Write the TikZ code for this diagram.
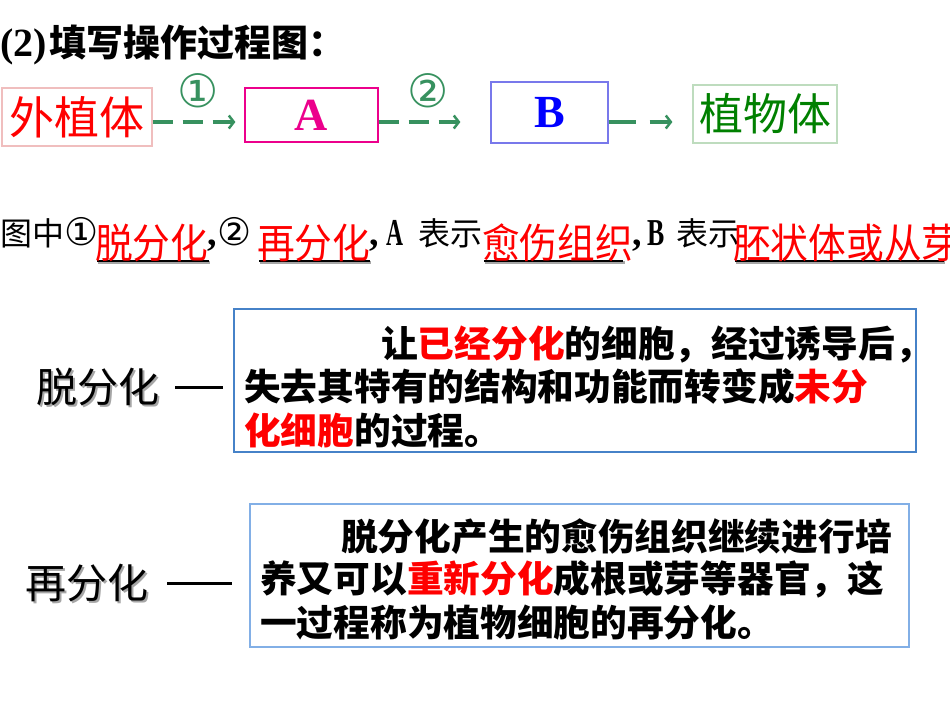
\documentclass[tikz,border=0pt]{standalone}
\usepackage{fontspec}
\usetikzlibrary{arrows.meta,backgrounds,calc}
\setmainfont{Liberation Serif}
\newfontfamily\cjk{Noto Sans CJK SC}
\newfontfamily\cjknarrow{Noto Sans CJK SC}[FakeStretch=0.92]
\newfontfamily\sym{DejaVu Sans}
\definecolor{arrowgreen}{RGB}{55,145,95}
\definecolor{plantgreen}{RGB}{0,128,0}
\definecolor{extpink}{RGB}{240,190,190}
\definecolor{lightgreen}{RGB}{190,220,190}
\definecolor{bblue}{RGB}{120,120,235}
\definecolor{boxblue}{RGB}{70,130,200}
\definecolor{boxblueb}{RGB}{130,175,230}
\newcommand\fs[1]{\fontsize{#1}{#1}\selectfont}
\newcommand\shadowed[1]{\rlap{\hspace{2pt}\raisebox{-2pt}{\color{black!35}#1}}#1}

\begin{document}
\begin{tikzpicture}[x=1pt,y=-1pt,
	stage/.style={draw, line width=1.2pt, inner sep=0pt},
	flow/.style={arrowgreen, line width=4.5pt, dash pattern=on 20pt off 10pt, -{Straight Barb[length=5pt,width=13pt,line width'=2.5pt]}},
	stepnum/.style={text=arrowgreen, inner sep=0pt, font=\sym\fs{46}},
	qtext/.style={anchor=base west, inner sep=0pt, font=\cjk\fs{32}},
	answer/.style={anchor=base west, inner sep=0pt, text=red, font=\cjknarrow\fs{41}},
	body/.style={anchor=base west, inner sep=0pt, font=\cjk\bfseries\fs{36.7}},
	term/.style={anchor=base west, inner sep=0pt, font=\cjk\fs{41}},
	textbox/.style={draw, line width=1.2pt, inner sep=0pt},
	link/.style={line width=2.5pt}]
\useasboundingbox (0,0) rectangle (950,713);
\node[anchor=base west, inner sep=0pt] (title) at (0,56) {{\bfseries\fs{40}(2)}\hspace{3pt}{\cjk\bfseries\fs{37}填写操作过程图：}};

% flow of the culture
\coordinate (lane) at (0,122);
\node[stage, draw=extpink, text=red, minimum width=150pt, minimum height=58pt, font=\cjk\fs{45}] (ext) at (77,117) {外植体};
\node[stage, draw=magenta, text=magenta, minimum width=133pt, minimum height=54pt, font=\bfseries\fs{46}] (calA) at (311.5,115) {A};
\node[stage, draw=bblue, text=blue, minimum width=117pt, minimum height=61pt, font=\bfseries\fs{46}] (calB) at (549.5,112.5) {B};
\node[stage, draw=lightgreen, text=plantgreen, minimum width=144pt, minimum height=58pt, font=\cjk\fs{44}] (plant) at (765,114) {植物体};
\draw[flow, shorten >=9pt] (ext.east |- lane) -- node[stepnum, above=12pt] (s1) {①} (calA.west |- lane);
\draw[flow, shorten >=30pt] (calA.east |- lane) -- node[stepnum, above=12pt, pos=0.44] (s2) {②} (calB.west |- lane);
\draw[flow, dash pattern=on 27pt off 14pt, shorten >=20pt] (calB.east |- lane) -- (plant.west |- lane);

% fill in the blanks
\node[qtext] (q1) at (0,245) {图中{\sym\fs{38}①}};
\node[answer] (ans1) at (95,258) {脱分化};
\node[qtext] (q2) at (207,245) {{\rmfamily\bfseries\fs{38},}\hspace{1pt}{\sym\fs{38}②}};
\node[answer] (ans2) at (257,258) {再分化};
\node[qtext] (q3) at (369,245) {{\rmfamily\bfseries\fs{38},\hspace{8pt}\scalebox{0.62}[1]{A}}\hspace{15pt}表示};
\node[answer] (ans3) at (482,258) {愈伤组织};
\node[qtext] (q4) at (632,245) {{\rmfamily\bfseries\fs{38},\hspace{6pt}\scalebox{0.68}[1]{B}}\hspace{12pt}表示};
\node[answer] (ans4) at (733,258) {胚状体或从芽};
\begin{scope}[on background layer]
\foreach \n/\e in {ans1/0,ans2/1,ans3/10,ans4/16}{
	\draw[link, black!35] ([shift={(3pt,-4.5pt)}]\n.base west) -- ([shift={(-\e pt+1.5pt,-4.5pt)}]\n.base east);
	\draw[link] ([shift={(2pt,-3pt)}]\n.base west) -- ([shift={(-\e pt,-3pt)}]\n.base east);
}
\end{scope}

% dedifferentiation
\node[textbox, draw=boxblue, minimum width=682pt, minimum height=143pt] (dfbox) at (575,380.5) {};
\node[body] (df1) at (381,357) {让{\color{red}已经分化}的细胞，经过诱导后，};
\node[body] (df2) at (244,400) {失去其特有的结构和功能而转变成{\color{red}未分}};
\node[body] (df3) at (244,444) {{\color{red}化细胞}的过程。};
\node[term] (dfterm) at (36,402) {\shadowed{脱分化}};
\draw[link] ([xshift=16pt]dfterm.east) -- ($(dfterm.east -| dfbox.west)+(-10pt,0)$);

% redifferentiation
\node[textbox, draw=boxblueb, minimum width=659pt, minimum height=143pt] (rdbox) at (579.5,575.5) {};
\node[body] (rd1) at (341,550) {脱分化产生的愈伤组织继续进行培};
\node[body] (rd2) at (260,592) {养又可以{\color{red}重新分化}成根或芽等器官，这};
\node[body] (rd3) at (260,636) {一过程称为植物细胞的再分化。};
\node[term] (rdterm) at (25,598) {\shadowed{再分化}};
\draw[link] ([xshift=19pt]rdterm.east) -- ($(rdterm.east -| rdbox.west)+(-17pt,0)$);
\end{tikzpicture}
\end{document}
